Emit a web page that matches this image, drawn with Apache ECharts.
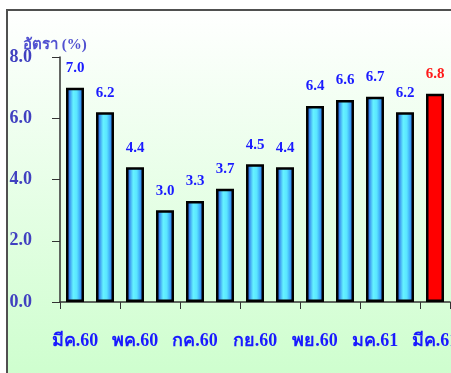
<!DOCTYPE html>
<html>
<head>
<meta charset="utf-8">
<script src="https://cdn.jsdelivr.net/npm/echarts@6/dist/echarts.min.js"></script>
<style>
html,body{margin:0;padding:0;background:#fff;overflow:hidden;}
#c{width:451px;height:373px;}
</style>
</head>
<body>
<div id="c"></div>
<script>
const categories = ['มีค.60','เมย.60','พค.60','มิย.60','กค.60','สค.60','กย.60','ตค.60','พย.60','ธค.60','มค.61','กพ.61','มีค.61'];
const values = [7.0, 6.2, 4.4, 3.0, 3.3, 3.7, 4.5, 4.4, 6.4, 6.6, 6.7, 6.2, 6.8];
const yTicks = [0, 2, 4, 6, 8];
const axisTitle = 'อัตรา (%)';

const font = '"Liberation Serif", "Times New Roman", serif';
const blueGrad = {
  type: 'linear', x: 0, y: 0, x2: 1, y2: 0,
  colorStops: [
    {offset: 0, color: '#0a2ee0'},
    {offset: 0.4, color: '#66f2ff'},
    {offset: 0.6, color: '#5ae6ff'},
    {offset: 1, color: '#1a5cf0'}
  ]
};
const lastIdx = values.length - 1;
const data = values.map((v, i) => ({
  value: v,
  itemStyle: i === lastIdx ? {color: '#ff0000'} : {color: blueGrad},
  label: {color: i === lastIdx ? '#ff1a1a' : '#1a1aff'}
}));

const chart = echarts.init(document.getElementById('c'));
chart.setOption({
  animation: false,
  graphic: [{
    type: 'rect', z: -100, silent: true,
    shape: {x: 7, y: 10, width: 460, height: 380},
    style: {
      fill: {type: 'linear', x: 0, y: 0, x2: 0, y2: 1, colorStops: [
        {offset: 0, color: '#ffffff'}, {offset: 1, color: '#ccfecc'}]},
      stroke: '#505050', lineWidth: 2
    }
  }],
  title: {
    text: axisTitle, left: 18, top: 33,
    textStyle: {fontFamily: font, fontSize: 15, fontWeight: 'bold', color: '#5050d0'}
  },
  grid: {left: 60, right: 1, top: 57, bottom: 71, containLabel: false, outerBoundsMode: 'none'},
  xAxis: {
    type: 'category', data: categories,
    axisLine: {lineStyle: {color: '#333', width: 1.5}},
    axisTick: {show: true, length: 7, alignWithLabel: false, lineStyle: {color: '#333'}},
    axisLabel: {interval: 1, margin: 30, fontFamily: font, fontSize: 18, fontWeight: 'bold', color: '#1a1aff'}
  },
  yAxis: {
    type: 'value', min: yTicks[0], max: yTicks[yTicks.length-1], interval: 2,
    axisLine: {show: true, lineStyle: {color: '#333', width: 1.5}},
    axisTick: {show: true, length: 8, lineStyle: {color: '#333'}},
    splitLine: {show: false},
    axisLabel: {margin: 28, fontFamily: font, fontSize: 18, fontWeight: 'bold', color: '#4040c0',
      formatter: v => v.toFixed(1)}
  },
  series: [{
    type: 'bar', data: data, barWidth: 18,
    itemStyle: {borderColor: '#000', borderWidth: 2.5},
    label: {show: true, position: 'top', distance: 12, fontFamily: font, fontSize: 15, fontWeight: 'bold',
      formatter: p => p.value.toFixed(1)}
  }]
});
</script>
</body>
</html>
